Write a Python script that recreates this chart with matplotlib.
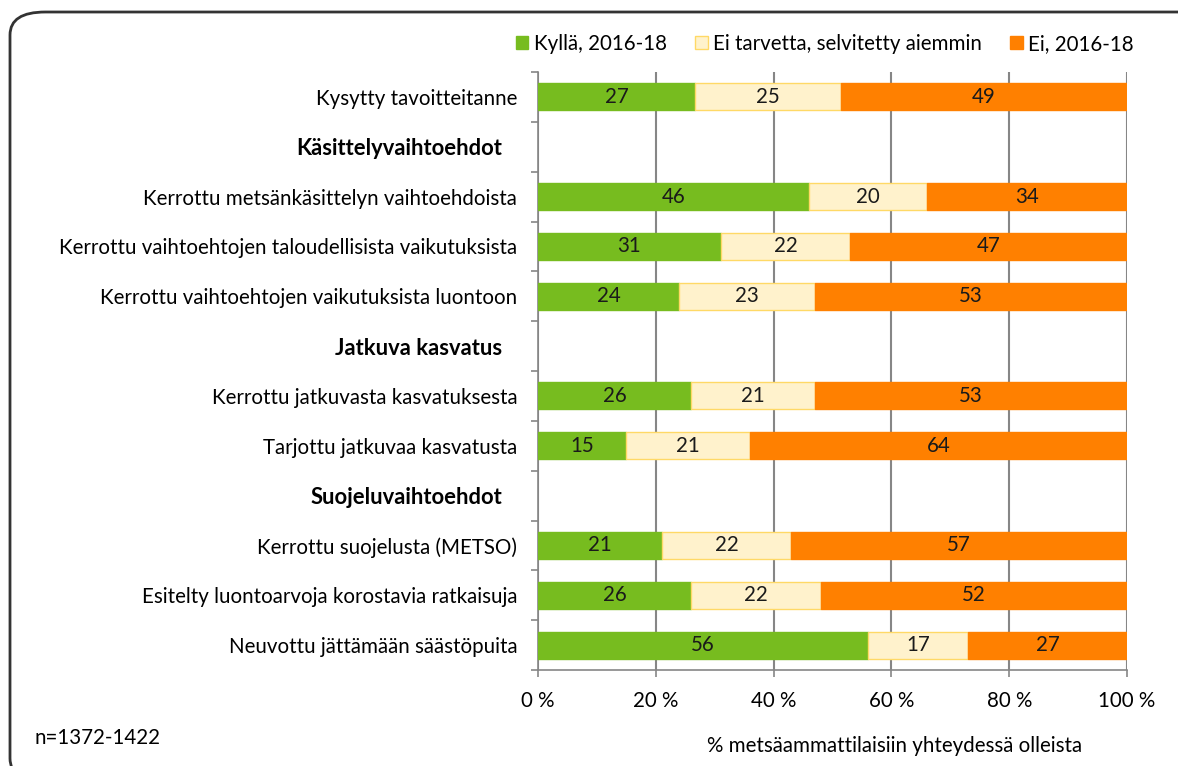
import matplotlib

matplotlib.use("Agg")

import matplotlib.pyplot as plt
import numpy as np
from matplotlib.patches import FancyBboxPatch
from matplotlib.transforms import ScaledTranslation

plt.rcParams["font.family"] = ["Lato", "DejaVu Sans"]

categories = [
    "Kysytty tavoitteitanne",
    "Käsittelyvaihtoehdot",
    "Kerrottu metsänkäsittelyn vaihtoehdoista",
    "Kerrottu vaihtoehtojen taloudellisista vaikutuksista",
    "Kerrottu vaihtoehtojen vaikutuksista luontoon",
    "Jatkuva kasvatus",
    "Kerrottu jatkuvasta kasvatuksesta",
    "Tarjottu jatkuvaa kasvatusta",
    "Suojeluvaihtoehdot",
    "Kerrottu suojelusta (METSO)",
    "Esitelty luontoarvoja korostavia ratkaisuja",
    "Neuvottu jättämään säästöpuita",
]
headers = ["Käsittelyvaihtoehdot", "Jatkuva kasvatus", "Suojeluvaihtoehdot"]

# None = header row without bar
yes_vals = [27, None, 46, 31, 24, None, 26, 15, None, 21, 26, 56]
no_need_vals = [25, None, 20, 22, 23, None, 21, 21, None, 22, 22, 17]
no_vals = [49, None, 34, 47, 53, None, 53, 64, None, 57, 52, 27]

series_names = ["Kyllä, 2016-18", "Ei tarvetta, selvitetty aiemmin", "Ei, 2016-18"]
colors = ["#77bc1f", "#fff2cc", "#ff8000"]
edges = ["#77bc1f", "#ffd966", "#ff8000"]

fs = 14.8

fig = plt.figure(figsize=(11.78, 7.66), dpi=100)
ax = fig.add_axes([538 / 1178, 1 - 670 / 766, 589 / 1178, 598 / 766])

n = len(categories)
y = np.arange(n)
left = np.zeros(n)
series = [yes_vals, no_need_vals, no_vals]
totals = np.array([sum(v[i] for v in series) if series[0][i] is not None else 1 for i in range(n)], float)

for vals, name, col, ec in zip(series, series_names, colors, edges):
    raw = np.array([v if v is not None else 0 for v in vals], float)
    width = raw / totals * 100
    mask = np.array([v is not None for v in vals])
    ax.barh(y[mask], width[mask], left=left[mask], height=0.54, color=col,
            edgecolor=ec, linewidth=1, label=name, zorder=3)
    for yi, w, l, v in zip(y[mask], width[mask], left[mask], raw[mask]):
        ax.text(l + w / 2, yi, f"{int(v)}", ha="center", va="center",
                fontsize=fs, color="#1a1a1a", zorder=4)
    left = left + width

ax.set_xlim(0, 100)
ax.set_ylim(n - 0.5, -0.5)
ax.set_xticks(np.arange(0, 101, 20))
ax.set_xticklabels([f"{t} %" for t in range(0, 101, 20)], fontsize=fs)
ax.set_yticks(y)
ax.set_yticklabels(categories, fontsize=fs)
ax.set_yticks(np.arange(-0.5, n, 1), minor=True)
ax.tick_params(axis="y", which="major", length=0, pad=15)
ax.tick_params(axis="y", which="minor", length=5, color="#868686", width=1.2)
ax.tick_params(axis="x", length=5, color="#868686", width=1.2, pad=10)

for lab in ax.get_yticklabels():
    if lab.get_text() in headers:
        lab.set_fontweight("bold")
        lab.set_fontsize(fs + 1)
        lab.set_transform(lab.get_transform() + ScaledTranslation(-0.15, 0, fig.dpi_scale_trans))

ax.grid(axis="x", color="#868686", linewidth=1.5, zorder=0)
for side in ["top", "right"]:
    ax.spines[side].set_visible(False)
for side in ["left", "bottom"]:
    ax.spines[side].set_color("#868686")
    ax.spines[side].set_linewidth(1.2)

ax.legend(loc="lower right", bbox_to_anchor=(1.025, 1.016), ncol=3, frameon=False,
          fontsize=fs, handlelength=0.6, handleheight=0.6, handletextpad=0.25,
          columnspacing=1.4, borderaxespad=0)

fig.text(895 / 1178, 1 - 746 / 766, "% metsäammattilaisiin yhteydessä olleista",
         ha="center", va="center", fontsize=fs)
fig.text(35 / 1178, 1 - 738 / 766, "n=1372-1422", ha="left", va="center", fontsize=fs)

border = FancyBboxPatch((10 / 1178, -0.02), 1.05, 1 - 12 / 766 + 0.02,
                        boxstyle="round,pad=0,rounding_size=0.03",
                        transform=fig.transFigure, fill=False,
                        edgecolor="#333333", linewidth=2, clip_on=False)
fig.patches.append(border)

fig.savefig("out.png", dpi=100)
plt.close(fig)
